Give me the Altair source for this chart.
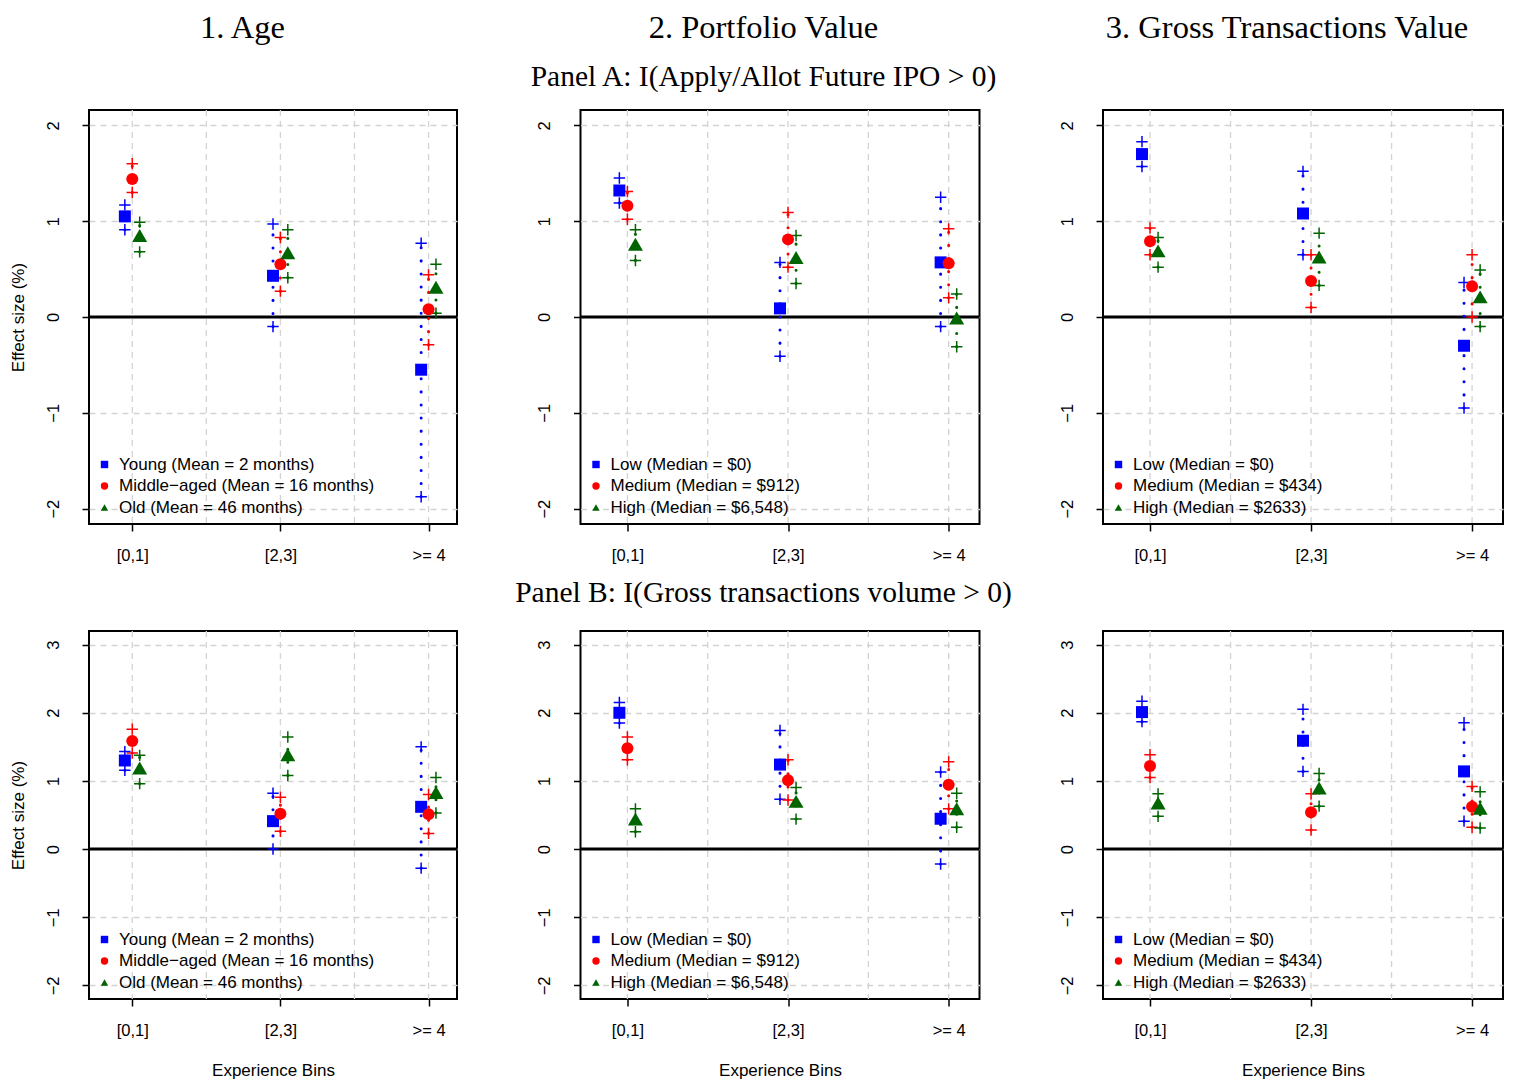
import altair as alt
import pandas as pd

# ---------------- data ----------------
bins = ["[0,1]", "[2,3]", ">= 4"]
bin_pos = [1, 2, 3]
grid_x = [1.0, 1.5, 2.0, 2.5, 3.0]

age_groups = ["Young (Mean = 2 months)", "Middle\u2212aged (Mean = 16 months)", "Old (Mean = 46 months)"]
pv_groups = ["Low (Median = $0)", "Medium (Median = $912)", "High (Median = $6,548)"]
gtv_groups = ["Low (Median = $0)", "Medium (Median = $434)", "High (Median = $2633)"]

# rows = groups (low/young, medium, high/old); columns = experience bins
a1_est = [[1.05, 0.43, -0.55], [1.44, 0.55, 0.08], [0.85, 0.67, 0.31]]
a1_lo = [[0.91, -0.10, -1.875], [1.30, 0.27, -0.29], [0.68, 0.41, 0.04]]
a1_hi = [[1.17, 0.97, 0.77], [1.60, 0.83, 0.44], [0.99, 0.91, 0.55]]

a2_est = [[1.32, 0.09, 0.57], [1.16, 0.81, 0.56], [0.76, 0.62, -0.01]]
a2_lo = [[1.19, -0.41, -0.10], [1.02, 0.52, 0.20], [0.59, 0.35, -0.31]]
a2_hi = [[1.45, 0.57, 1.25], [1.31, 1.09, 0.92], [0.91, 0.85, 0.24]]

a3_est = [[1.70, 1.08, -0.30], [0.79, 0.375, 0.32], [0.69, 0.625, 0.21]]
a3_lo = [[1.57, 0.65, -0.95], [0.65, 0.10, 0.0], [0.52, 0.33, -0.10]]
a3_hi = [[1.83, 1.52, 0.36], [0.93, 0.65, 0.65], [0.83, 0.875, 0.49]]

b1_est = [[1.30, 0.41, 0.62], [1.585, 0.52, 0.51], [1.19, 1.385, 0.83]]
b1_lo = [[1.155, 0.0, -0.28], [1.41, 0.26, 0.23], [0.96, 1.08, 0.53]]
b1_hi = [[1.43, 0.82, 1.50], [1.76, 0.76, 0.80], [1.375, 1.645, 1.05]]

b2_est = [[2.00, 1.24, 0.445], [1.48, 1.01, 0.945], [0.44, 0.70, 0.59]]
b2_lo = [[1.85, 0.73, -0.22], [1.31, 0.72, 0.59], [0.255, 0.44, 0.32]]
b2_hi = [[2.15, 1.74, 1.13], [1.645, 1.31, 1.28], [0.59, 0.905, 0.82]]

b3_est = [[2.01, 1.59, 1.14], [1.22, 0.54, 0.62], [0.675, 0.895, 0.60]]
b3_lo = [[1.87, 1.14, 0.41], [1.05, 0.28, 0.32], [0.48, 0.63, 0.31]]
b3_hi = [[2.17, 2.05, 1.855], [1.385, 0.81, 0.92], [0.81, 1.11, 0.84]]

# ---------------- styles ----------------
colors = ["#0000FF", "#FF0000", "#006400"]
shapes = ["square", "circle", "triangle-up"]
dodge = [-0.05, 0.0, 0.05]
FONT = "Liberation Sans"
SERIF = "Liberation Serif"
PLUS = "M-1,0L1,0M0,-1L0,1"
label_expr = "[" + ",".join("'" + b + "'" for b in bins) + "][datum.value - 1]"


def panel(groups, est, lo, hi, ydom, yticks, w, h, ytitle=None, xtitle=None, title=None):
    rows = []
    for g in range(3):
        for b in range(3):
            rows.append({"group": groups[g], "gi": g, "col": colors[g], "x": bin_pos[b] + dodge[g],
                         "est": est[g][b], "lo": lo[g][b], "hi": hi[g][b]})
    df = pd.DataFrame(rows)
    xs = alt.Scale(domain=[0.708, 3.192], nice=False, zero=False)
    ys = alt.Scale(domain=ydom, nice=False, zero=False)
    xaxis = alt.Axis(values=bin_pos, labelExpr=label_expr, grid=False, domain=False,
                     tickSize=7, tickColor="black", tickWidth=1.5,
                     labelFont=FONT, labelFontSize=16.5, labelColor="black", labelPadding=16,
                     labelFlush=False, title=xtitle, titleFont=FONT, titleFontSize=17,
                     titleFontWeight="normal", titleColor="black", titlePadding=24)
    yaxis = alt.Axis(values=yticks, grid=True, gridDash=[6, 5], gridColor="#d3d3d3", gridWidth=1.3,
                     domain=False, tickSize=7, tickColor="black", tickWidth=1.5, format="d",
                     labelFont=FONT, labelFontSize=16.5, labelColor="black", labelAngle=270,
                     labelPadding=21, labelFlush=False, title=ytitle, titleFont=FONT,
                     titleFontSize=17, titleFontWeight="normal", titleColor="black", titlePadding=18)
    X = alt.X("x:Q", scale=xs, axis=xaxis)
    Y = alt.Y("est:Q", scale=ys, axis=yaxis)
    leg = alt.Legend(title=None, orient="none", legendX=7, legendY=h - 68, labelFont=FONT,
                     labelFontSize=17, labelColor="black", symbolSize=55, symbolStrokeWidth=0,
                     labelOffset=6, rowPadding=3.5, padding=0, labelLimit=500)
    color = alt.Color("group:N", scale=alt.Scale(domain=groups, range=colors), legend=leg)
    shape = alt.Shape("group:N", scale=alt.Scale(domain=groups, range=shapes), legend=leg)

    gridv = alt.Chart(pd.DataFrame({"x": grid_x})).mark_rule(
        color="#d3d3d3", strokeDash=[6, 5], strokeWidth=1.3).encode(x=X)
    zero = alt.Chart(pd.DataFrame({"y": [0]})).mark_rule(color="black", strokeWidth=3).encode(
        y=alt.Y("y:Q", scale=ys, axis=yaxis))
    base = alt.Chart(df)
    ci = base.mark_rule(strokeDash=[0.1, 13], strokeCap="round", strokeWidth=3).encode(
        x=X, y=alt.Y("lo:Q", scale=ys, axis=yaxis), y2="hi:Q",
        stroke=alt.Stroke("col:N", scale=None))
    plus_lo = base.mark_point(shape=PLUS, size=130, strokeWidth=1.5, filled=False, opacity=1).encode(
        x=X, y=alt.Y("lo:Q", scale=ys, axis=yaxis), stroke=alt.Stroke("col:N", scale=None))
    plus_hi = base.mark_point(shape=PLUS, size=130, strokeWidth=1.5, filled=False, opacity=1).encode(
        x=X, y=alt.Y("hi:Q", scale=ys, axis=yaxis), stroke=alt.Stroke("col:N", scale=None))
    pts_sc = base.transform_filter("datum.gi < 2").mark_point(filled=True, opacity=1, size=144).encode(
        x=X, y=Y, color=color, shape=shape)
    pts_tri = base.transform_filter("datum.gi == 2").mark_point(filled=True, opacity=1, size=225).encode(
        x=X, y=Y, color=color, shape=shape)
    props = {"width": w, "height": h}
    if title is not None:
        props["title"] = title
    return alt.layer(gridv, zero, ci, plus_lo, plus_hi, pts_sc, pts_tri).properties(**props)


def ttl(text, sub, dx, offset):
    return alt.TitleParams(text=text, font=SERIF, fontSize=32.5, fontWeight="normal", color="black",
                           anchor="middle", frame="group", dx=dx, offset=offset,
                           subtitle=sub, subtitleFont=SERIF, subtitleFontSize=29.5,
                           subtitleColor="black", subtitlePadding=18)


A_dom, A_ticks = [-2.16, 2.16], [-2, -1, 0, 1, 2]
B_dom, B_ticks = [-2.2, 3.2], [-2, -1, 0, 1, 2, 3]
W = [368, 399, 400]
HA, HB = 414, 368
panelA = "Panel A: I(Apply/Allot Future IPO > 0)"
panelB = "Panel B: I(Gross transactions volume > 0)"

A1 = panel(age_groups, a1_est, a1_lo, a1_hi, A_dom, A_ticks, W[0], HA,
           ytitle="Effect size (%)", title=ttl("1. Age", " ", -30.5, 18))
A2 = panel(pv_groups, a2_est, a2_lo, a2_hi, A_dom, A_ticks, W[1], HA,
           title=ttl("2. Portfolio Value", panelA, -16.5, 18))
A3 = panel(gtv_groups, a3_est, a3_lo, a3_hi, A_dom, A_ticks, W[2], HA,
           title=ttl("3. Gross Transactions Value", " ", -16, 18))
B1 = panel(age_groups, b1_est, b1_lo, b1_hi, B_dom, B_ticks, W[0], HB,
           ytitle="Effect size (%)", xtitle="Experience Bins")
B2 = panel(pv_groups, b2_est, b2_lo, b2_hi, B_dom, B_ticks, W[1], HB,
           xtitle="Experience Bins", title=alt.TitleParams(
               text=panelB, font=SERIF, fontSize=29.5, fontWeight="normal", color="black",
               anchor="middle", frame="group", dx=-16.5, offset=22))
B3 = panel(gtv_groups, b3_est, b3_lo, b3_hi, B_dom, B_ticks, W[2], HB, xtitle="Experience Bins")

res = dict(color="independent", shape="independent", x="independent", y="independent")
resl = dict(color="independent", shape="independent")

chart = alt.concat(A1, A2, A3, B1, B2, B3, columns=3, spacing={"row": 107, "column": 123.5},
                   bounds="flush", align="each").resolve_scale(**res).resolve_legend(**resl).properties(
    padding={"left": 0, "top": 3, "right": 0, "bottom": 0}
).configure_view(stroke="black", strokeWidth=2)

chart.save("out.html", embed_options={"renderer": "svg", "actions": False})
